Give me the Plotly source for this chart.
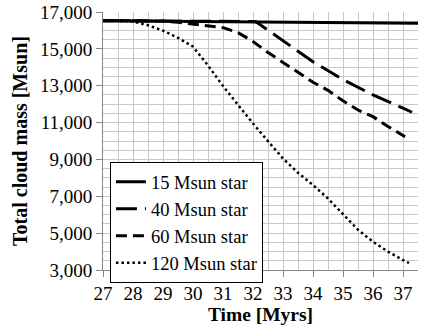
import plotly.graph_objects as go

# Cloud mass vs time for different star masses
time_15 = [27, 32, 37.5]
mass_15 = [16530, 16460, 16390]

time_40 = [27, 30, 31, 32, 32.1, 33, 34, 35, 36, 37, 37.3]
mass_40 = [16530, 16520, 16500, 16480, 16470, 15420, 14300, 13330, 12500, 11780, 11560]

time_60 = [27, 28, 29, 29.5, 30, 30.5, 31, 31.5, 32, 32.5, 33, 33.5, 34, 34.5, 35, 35.5, 36, 36.5, 37.07]
mass_60 = [16530, 16530, 16510, 16440, 16350, 16280, 16150, 15880, 15400, 14800, 14270, 13730,
           13190, 12750, 12180, 11680, 11320, 10790, 10230]

time_120 = [27, 27.5, 28, 28.5, 29, 29.5, 30, 30.5, 31, 31.5, 32, 32.5, 33, 33.5, 34, 34.5, 35,
            35.5, 36, 36.5, 37, 37.2]
mass_120 = [16530, 16530, 16480, 16280, 15990, 15600, 15120, 14100, 12980, 11950, 10950, 9990,
            9050, 8280, 7610, 6880, 6050, 5180, 4530, 4000, 3540, 3380]

series = [
    ("15 Msun star", time_15, mass_15, dict(color="black", width=3, dash="solid")),
    ("40 Msun star", time_40, mass_40, dict(color="black", width=3, dash="21px,8px")),
    ("60 Msun star", time_60, mass_60, dict(color="black", width=3, dash="11px,6px")),
    ("120 Msun star", time_120, mass_120, dict(color="black", width=2.5, dash="2.5px,3px")),
]

fig = go.Figure()
for name, t, m, line in series:
    fig.add_trace(go.Scatter(x=t, y=m, mode="lines", name=name, line=line))

serif = "Liberation Serif, Times New Roman, serif"
grid = "#C8C8C8"

fig.update_layout(
    width=436, height=327,
    margin=dict(l=103, r=18, t=12, b=57),
    plot_bgcolor="white", paper_bgcolor="white",
    font=dict(family=serif, size=19, color="black"),
    legend=dict(x=0.022, y=0.418, xanchor="left", yanchor="top",
                bgcolor="white", bordercolor="black", borderwidth=1,
                font=dict(family=serif, size=18.5), tracegroupgap=0),
)

fig.update_xaxes(
    range=[27, 37.5], dtick=1, tick0=27, automargin=False,
    tickfont=dict(family=serif, size=19),
    showgrid=True, gridcolor=grid, gridwidth=1,
    minor=dict(dtick=0.5, showgrid=True, gridcolor=grid, gridwidth=1),
    showline=True, linecolor="#868686", linewidth=1,
    ticks="outside", ticklen=6, tickcolor="#868686",
    zeroline=False,
    title=dict(text="<b>Time [Myrs]</b>", standoff=0, font=dict(family=serif, size=19.5)),
)
fig.update_yaxes(
    range=[3000, 17000], dtick=2000, tick0=3000, tickformat=",d", automargin=False,
    tickfont=dict(family=serif, size=19),
    showgrid=True, gridcolor=grid, gridwidth=1,
    minor=dict(dtick=500, showgrid=True, gridcolor=grid, gridwidth=1),
    showline=True, linecolor="#868686", linewidth=1,
    ticks="outside", ticklen=6, tickcolor="#868686",
    zeroline=False,
    title=dict(text="<b>Total cloud mass [Msun]</b>", standoff=6, font=dict(family=serif, size=20)),
)

# the default page has an 8px body margin; drop it so the figure sits at 0,0
fig.write_html("out.html", config={"displayModeBar": False},
               post_script="document.body.style.margin='0';")
